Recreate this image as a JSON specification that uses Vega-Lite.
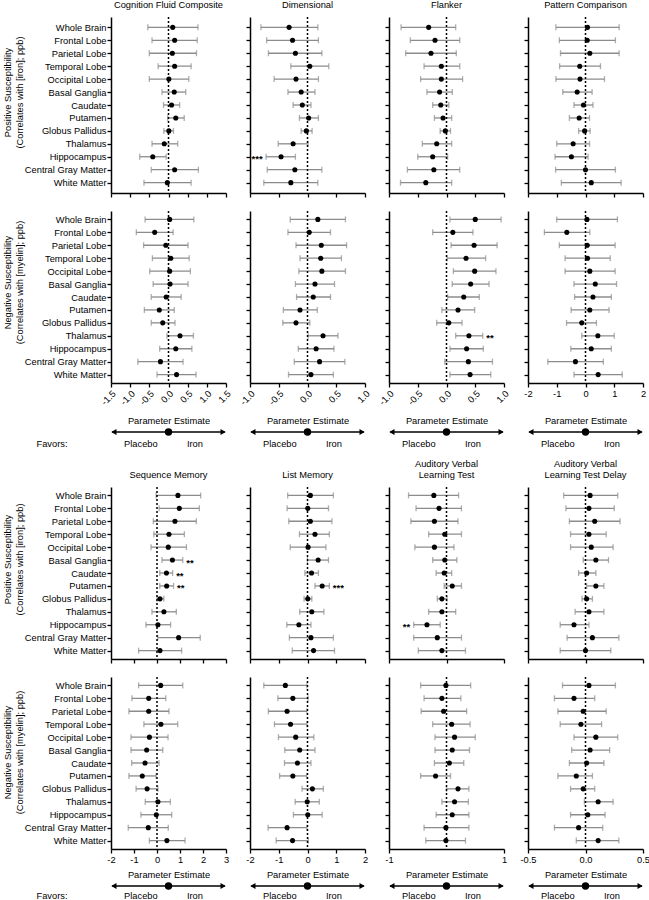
{
"$schema":"https://vega.github.io/schema/vega-lite/v6.json",
"padding":{"left":3,"top":0,"right":2,"bottom":0},
"bounds":"flush","spacing":{"row":18,"column":24},"columns":4,
"config":{"font":"Liberation Sans","view":{"stroke":null},
"title":{"font":"Liberation Sans","fontSize":9.3,"fontWeight":"normal","color":"black","offset":6,"lineHeight":10.5},
"axis":{"labelFont":"Liberation Sans","labelFontSize":9.3,"labelColor":"black","titleFont":"Liberation Sans","titleFontSize":9.3,"titleFontWeight":"normal","titleColor":"black","domainColor":"black","domainWidth":1.5,"tickColor":"black","tickWidth":1.3,"tickSize":4,"labelPadding":2,"titlePadding":4,"grid":false},
"axisX":{"tickCount":20,"labelOverlap":false,"labelFlush":false,"labelBound":false},
"text":{"font":"Liberation Sans"},
"locale":{"number":{"decimal":".","thousands":",","grouping":[3],"currency":["$",""],"minus":"-"}}},
"datasets":{
"arrow":[
{"k":"line","lane":"arrow","x":0.01,"x2":0.99},
{"k":"head","lane":"arrow","x":0.025,"shape":"triangle-left"},
{"k":"head","lane":"arrow","x":0.975,"shape":"triangle-right"},
{"k":"dot","lane":"arrow","x":0.5},
{"k":"label","lane":"arrow","x":0.26,"label":"Placebo"},
{"k":"label","lane":"arrow","x":0.73,"label":"Iron"},
{"k":"favors","lane":"arrow","x":-0.513,"label":"Favors:"}],
"est":[
{"t":"cog","s":"pos","r":"Whole Brain","e":0.11,"l":-0.54,"h":0.77},
{"t":"cog","s":"pos","r":"Frontal Lobe","e":0.16,"l":-0.43,"h":0.75},
{"t":"cog","s":"pos","r":"Parietal Lobe","e":0.10,"l":-0.50,"h":0.73},
{"t":"cog","s":"pos","r":"Temporal Lobe","e":0.16,"l":-0.27,"h":0.59},
{"t":"cog","s":"pos","r":"Occipital Lobe","e":0.01,"l":-0.50,"h":0.53},
{"t":"cog","s":"pos","r":"Basal Ganglia","e":0.15,"l":-0.17,"h":0.45},
{"t":"cog","s":"pos","r":"Caudate","e":0.08,"l":-0.13,"h":0.29},
{"t":"cog","s":"pos","r":"Putamen","e":0.19,"l":-0.02,"h":0.41},
{"t":"cog","s":"pos","r":"Globus Pallidus","e":0.01,"l":-0.12,"h":0.13},
{"t":"cog","s":"pos","r":"Thalamus","e":-0.11,"l":-0.43,"h":0.24},
{"t":"cog","s":"pos","r":"Hippocampus","e":-0.41,"l":-0.75,"h":-0.06},
{"t":"cog","s":"pos","r":"Central Gray Matter","e":0.16,"l":-0.45,"h":0.78},
{"t":"cog","s":"pos","r":"White Matter","e":-0.03,"l":-0.64,"h":0.59},
{"t":"cog","s":"neg","r":"Whole Brain","e":0.03,"l":-0.61,"h":0.66},
{"t":"cog","s":"neg","r":"Frontal Lobe","e":-0.36,"l":-0.84,"h":0.12},
{"t":"cog","s":"neg","r":"Parietal Lobe","e":-0.07,"l":-0.65,"h":0.51},
{"t":"cog","s":"neg","r":"Temporal Lobe","e":0.06,"l":-0.42,"h":0.54},
{"t":"cog","s":"neg","r":"Occipital Lobe","e":0.03,"l":-0.49,"h":0.57},
{"t":"cog","s":"neg","r":"Basal Ganglia","e":0.04,"l":-0.40,"h":0.51},
{"t":"cog","s":"neg","r":"Caudate","e":-0.06,"l":-0.45,"h":0.33},
{"t":"cog","s":"neg","r":"Putamen","e":-0.24,"l":-0.63,"h":0.15},
{"t":"cog","s":"neg","r":"Globus Pallidus","e":-0.15,"l":-0.45,"h":0.17},
{"t":"cog","s":"neg","r":"Thalamus","e":0.30,"l":-0.04,"h":0.65},
{"t":"cog","s":"neg","r":"Hippocampus","e":0.19,"l":-0.23,"h":0.61},
{"t":"cog","s":"neg","r":"Central Gray Matter","e":-0.21,"l":-0.80,"h":0.38},
{"t":"cog","s":"neg","r":"White Matter","e":0.21,"l":-0.30,"h":0.72},
{"t":"dim","s":"pos","r":"Whole Brain","e":-0.32,"l":-0.81,"h":0.18},
{"t":"dim","s":"pos","r":"Frontal Lobe","e":-0.26,"l":-0.71,"h":0.19},
{"t":"dim","s":"pos","r":"Parietal Lobe","e":-0.21,"l":-0.68,"h":0.25},
{"t":"dim","s":"pos","r":"Temporal Lobe","e":0.04,"l":-0.29,"h":0.37},
{"t":"dim","s":"pos","r":"Occipital Lobe","e":-0.20,"l":-0.58,"h":0.19},
{"t":"dim","s":"pos","r":"Basal Ganglia","e":-0.11,"l":-0.34,"h":0.13},
{"t":"dim","s":"pos","r":"Caudate","e":-0.09,"l":-0.25,"h":0.06},
{"t":"dim","s":"pos","r":"Putamen","e":0.02,"l":-0.14,"h":0.19},
{"t":"dim","s":"pos","r":"Globus Pallidus","e":-0.02,"l":-0.11,"h":0.08},
{"t":"dim","s":"pos","r":"Thalamus","e":-0.25,"l":-0.51,"h":0.01},
{"t":"dim","s":"pos","r":"Hippocampus","e":-0.46,"l":-0.72,"h":-0.21,"a":"***"},
{"t":"dim","s":"pos","r":"Central Gray Matter","e":-0.22,"l":-0.70,"h":0.25},
{"t":"dim","s":"pos","r":"White Matter","e":-0.29,"l":-0.76,"h":0.18},
{"t":"dim","s":"neg","r":"Whole Brain","e":0.18,"l":-0.30,"h":0.66},
{"t":"dim","s":"neg","r":"Frontal Lobe","e":0.03,"l":-0.34,"h":0.40},
{"t":"dim","s":"neg","r":"Parietal Lobe","e":0.24,"l":-0.20,"h":0.68},
{"t":"dim","s":"neg","r":"Temporal Lobe","e":0.23,"l":-0.13,"h":0.59},
{"t":"dim","s":"neg","r":"Occipital Lobe","e":0.25,"l":-0.15,"h":0.66},
{"t":"dim","s":"neg","r":"Basal Ganglia","e":0.13,"l":-0.21,"h":0.47},
{"t":"dim","s":"neg","r":"Caudate","e":0.10,"l":-0.19,"h":0.40},
{"t":"dim","s":"neg","r":"Putamen","e":-0.13,"l":-0.42,"h":0.17},
{"t":"dim","s":"neg","r":"Globus Pallidus","e":-0.20,"l":-0.43,"h":0.04},
{"t":"dim","s":"neg","r":"Thalamus","e":0.27,"l":0.01,"h":0.53},
{"t":"dim","s":"neg","r":"Hippocampus","e":0.15,"l":-0.16,"h":0.46},
{"t":"dim","s":"neg","r":"Central Gray Matter","e":0.21,"l":-0.23,"h":0.65},
{"t":"dim","s":"neg","r":"White Matter","e":0.06,"l":-0.33,"h":0.45},
{"t":"fla","s":"pos","r":"Whole Brain","e":-0.31,"l":-0.79,"h":0.16},
{"t":"fla","s":"pos","r":"Frontal Lobe","e":-0.20,"l":-0.63,"h":0.23},
{"t":"fla","s":"pos","r":"Parietal Lobe","e":-0.27,"l":-0.71,"h":0.17},
{"t":"fla","s":"pos","r":"Temporal Lobe","e":-0.09,"l":-0.39,"h":0.23},
{"t":"fla","s":"pos","r":"Occipital Lobe","e":-0.09,"l":-0.45,"h":0.28},
{"t":"fla","s":"pos","r":"Basal Ganglia","e":-0.12,"l":-0.34,"h":0.10},
{"t":"fla","s":"pos","r":"Caudate","e":-0.10,"l":-0.24,"h":0.04},
{"t":"fla","s":"pos","r":"Putamen","e":-0.06,"l":-0.21,"h":0.09},
{"t":"fla","s":"pos","r":"Globus Pallidus","e":-0.02,"l":-0.11,"h":0.07},
{"t":"fla","s":"pos","r":"Thalamus","e":-0.17,"l":-0.42,"h":0.09},
{"t":"fla","s":"pos","r":"Hippocampus","e":-0.24,"l":-0.50,"h":0.02},
{"t":"fla","s":"pos","r":"Central Gray Matter","e":-0.22,"l":-0.68,"h":0.23},
{"t":"fla","s":"pos","r":"White Matter","e":-0.36,"l":-0.80,"h":0.09},
{"t":"fla","s":"neg","r":"Whole Brain","e":0.50,"l":0.06,"h":0.95},
{"t":"fla","s":"neg","r":"Frontal Lobe","e":0.11,"l":-0.24,"h":0.46},
{"t":"fla","s":"neg","r":"Parietal Lobe","e":0.48,"l":0.08,"h":0.88},
{"t":"fla","s":"neg","r":"Temporal Lobe","e":0.34,"l":0.01,"h":0.68},
{"t":"fla","s":"neg","r":"Occipital Lobe","e":0.49,"l":0.12,"h":0.86},
{"t":"fla","s":"neg","r":"Basal Ganglia","e":0.42,"l":0.10,"h":0.74},
{"t":"fla","s":"neg","r":"Caudate","e":0.30,"l":0.02,"h":0.57},
{"t":"fla","s":"neg","r":"Putamen","e":0.20,"l":-0.08,"h":0.49},
{"t":"fla","s":"neg","r":"Globus Pallidus","e":0.04,"l":-0.17,"h":0.27},
{"t":"fla","s":"neg","r":"Thalamus","e":0.39,"l":0.16,"h":0.63,"a":"**"},
{"t":"fla","s":"neg","r":"Hippocampus","e":0.35,"l":0.06,"h":0.64},
{"t":"fla","s":"neg","r":"Central Gray Matter","e":0.38,"l":-0.03,"h":0.80},
{"t":"fla","s":"neg","r":"White Matter","e":0.41,"l":0.06,"h":0.77},
{"t":"pat","s":"pos","r":"Whole Brain","e":0.07,"l":-1.03,"h":1.17},
{"t":"pat","s":"pos","r":"Frontal Lobe","e":0.06,"l":-0.91,"h":1.04},
{"t":"pat","s":"pos","r":"Parietal Lobe","e":0.15,"l":-0.87,"h":1.17},
{"t":"pat","s":"pos","r":"Temporal Lobe","e":-0.20,"l":-0.90,"h":0.52},
{"t":"pat","s":"pos","r":"Occipital Lobe","e":-0.19,"l":-1.03,"h":0.66},
{"t":"pat","s":"pos","r":"Basal Ganglia","e":-0.29,"l":-0.79,"h":0.23},
{"t":"pat","s":"pos","r":"Caudate","e":-0.07,"l":-0.40,"h":0.26},
{"t":"pat","s":"pos","r":"Putamen","e":-0.22,"l":-0.56,"h":0.14},
{"t":"pat","s":"pos","r":"Globus Pallidus","e":-0.03,"l":-0.24,"h":0.16},
{"t":"pat","s":"pos","r":"Thalamus","e":-0.43,"l":-1.00,"h":0.14},
{"t":"pat","s":"pos","r":"Hippocampus","e":-0.49,"l":-1.06,"h":0.09},
{"t":"pat","s":"pos","r":"Central Gray Matter","e":0.00,"l":-1.04,"h":1.04},
{"t":"pat","s":"pos","r":"White Matter","e":0.20,"l":-0.84,"h":1.24},
{"t":"pat","s":"neg","r":"Whole Brain","e":0.05,"l":-1.00,"h":1.11},
{"t":"pat","s":"neg","r":"Frontal Lobe","e":-0.65,"l":-1.43,"h":0.15},
{"t":"pat","s":"neg","r":"Parietal Lobe","e":0.06,"l":-0.91,"h":1.03},
{"t":"pat","s":"neg","r":"Temporal Lobe","e":0.07,"l":-0.71,"h":0.86},
{"t":"pat","s":"neg","r":"Occipital Lobe","e":0.15,"l":-0.71,"h":1.03},
{"t":"pat","s":"neg","r":"Basal Ganglia","e":0.34,"l":-0.40,"h":1.08},
{"t":"pat","s":"neg","r":"Caudate","e":0.26,"l":-0.38,"h":0.90},
{"t":"pat","s":"neg","r":"Putamen","e":0.15,"l":-0.50,"h":0.82},
{"t":"pat","s":"neg","r":"Globus Pallidus","e":-0.13,"l":-0.66,"h":0.38},
{"t":"pat","s":"neg","r":"Thalamus","e":0.43,"l":-0.13,"h":1.00},
{"t":"pat","s":"neg","r":"Hippocampus","e":0.20,"l":-0.51,"h":0.90},
{"t":"pat","s":"neg","r":"Central Gray Matter","e":-0.35,"l":-1.31,"h":0.62},
{"t":"pat","s":"neg","r":"White Matter","e":0.44,"l":-0.40,"h":1.28},
{"t":"seq","s":"pos","r":"Whole Brain","e":0.91,"l":-0.04,"h":1.90},
{"t":"seq","s":"pos","r":"Frontal Lobe","e":0.97,"l":0.09,"h":1.84},
{"t":"seq","s":"pos","r":"Parietal Lobe","e":0.78,"l":-0.16,"h":1.71},
{"t":"seq","s":"pos","r":"Temporal Lobe","e":0.52,"l":-0.14,"h":1.19},
{"t":"seq","s":"pos","r":"Occipital Lobe","e":0.49,"l":-0.26,"h":1.28},
{"t":"seq","s":"pos","r":"Basal Ganglia","e":0.67,"l":0.22,"h":1.12,"a":"**"},
{"t":"seq","s":"pos","r":"Caudate","e":0.41,"l":0.12,"h":0.68,"a":"**"},
{"t":"seq","s":"pos","r":"Putamen","e":0.42,"l":0.12,"h":0.72,"a":"**"},
{"t":"seq","s":"pos","r":"Globus Pallidus","e":0.13,"l":0.00,"h":0.30},
{"t":"seq","s":"pos","r":"Thalamus","e":0.30,"l":-0.22,"h":0.84},
{"t":"seq","s":"pos","r":"Hippocampus","e":0.04,"l":-0.48,"h":0.59},
{"t":"seq","s":"pos","r":"Central Gray Matter","e":0.94,"l":0.03,"h":1.88},
{"t":"seq","s":"pos","r":"White Matter","e":0.13,"l":-0.80,"h":1.07},
{"t":"seq","s":"neg","r":"Whole Brain","e":0.16,"l":-0.80,"h":1.12},
{"t":"seq","s":"neg","r":"Frontal Lobe","e":-0.36,"l":-1.09,"h":0.38},
{"t":"seq","s":"neg","r":"Parietal Lobe","e":-0.36,"l":-1.22,"h":0.52},
{"t":"seq","s":"neg","r":"Temporal Lobe","e":0.17,"l":-0.57,"h":0.90},
{"t":"seq","s":"neg","r":"Occipital Lobe","e":-0.33,"l":-1.13,"h":0.48},
{"t":"seq","s":"neg","r":"Basal Ganglia","e":-0.45,"l":-1.13,"h":0.25},
{"t":"seq","s":"neg","r":"Caudate","e":-0.52,"l":-1.10,"h":0.09},
{"t":"seq","s":"neg","r":"Putamen","e":-0.64,"l":-1.22,"h":-0.04},
{"t":"seq","s":"neg","r":"Globus Pallidus","e":-0.43,"l":-0.91,"h":0.04},
{"t":"seq","s":"neg","r":"Thalamus","e":0.04,"l":-0.51,"h":0.58},
{"t":"seq","s":"neg","r":"Hippocampus","e":-0.03,"l":-0.70,"h":0.64},
{"t":"seq","s":"neg","r":"Central Gray Matter","e":-0.38,"l":-1.25,"h":0.49},
{"t":"seq","s":"neg","r":"White Matter","e":0.43,"l":-0.33,"h":1.22},
{"t":"lis","s":"pos","r":"Whole Brain","e":0.10,"l":-0.69,"h":0.90},
{"t":"lis","s":"pos","r":"Frontal Lobe","e":0.01,"l":-0.71,"h":0.73},
{"t":"lis","s":"pos","r":"Parietal Lobe","e":0.10,"l":-0.65,"h":0.85},
{"t":"lis","s":"pos","r":"Temporal Lobe","e":0.26,"l":-0.28,"h":0.76},
{"t":"lis","s":"pos","r":"Occipital Lobe","e":0.02,"l":-0.60,"h":0.64},
{"t":"lis","s":"pos","r":"Basal Ganglia","e":0.37,"l":0.00,"h":0.73},
{"t":"lis","s":"pos","r":"Caudate","e":0.14,"l":-0.09,"h":0.38},
{"t":"lis","s":"pos","r":"Putamen","e":0.51,"l":0.26,"h":0.76,"a":"***"},
{"t":"lis","s":"pos","r":"Globus Pallidus","e":0.01,"l":-0.12,"h":0.15},
{"t":"lis","s":"pos","r":"Thalamus","e":0.15,"l":-0.27,"h":0.57},
{"t":"lis","s":"pos","r":"Hippocampus","e":-0.30,"l":-0.72,"h":0.12},
{"t":"lis","s":"pos","r":"Central Gray Matter","e":0.12,"l":-0.63,"h":0.90},
{"t":"lis","s":"pos","r":"White Matter","e":0.21,"l":-0.53,"h":0.94},
{"t":"lis","s":"neg","r":"Whole Brain","e":-0.77,"l":-1.52,"h":-0.02},
{"t":"lis","s":"neg","r":"Frontal Lobe","e":-0.51,"l":-1.03,"h":0.02},
{"t":"lis","s":"neg","r":"Parietal Lobe","e":-0.71,"l":-1.36,"h":-0.02},
{"t":"lis","s":"neg","r":"Temporal Lobe","e":-0.59,"l":-1.15,"h":-0.02},
{"t":"lis","s":"neg","r":"Occipital Lobe","e":-0.41,"l":-1.01,"h":0.22},
{"t":"lis","s":"neg","r":"Basal Ganglia","e":-0.27,"l":-0.79,"h":0.26},
{"t":"lis","s":"neg","r":"Caudate","e":-0.35,"l":-0.80,"h":0.12},
{"t":"lis","s":"neg","r":"Putamen","e":-0.51,"l":-0.97,"h":-0.03},
{"t":"lis","s":"neg","r":"Globus Pallidus","e":0.17,"l":-0.19,"h":0.55},
{"t":"lis","s":"neg","r":"Thalamus","e":-0.01,"l":-0.43,"h":0.41},
{"t":"lis","s":"neg","r":"Hippocampus","e":0.01,"l":-0.49,"h":0.51},
{"t":"lis","s":"neg","r":"Central Gray Matter","e":-0.71,"l":-1.37,"h":-0.02},
{"t":"lis","s":"neg","r":"White Matter","e":-0.52,"l":-1.09,"h":0.03},
{"t":"avl","s":"pos","r":"Whole Brain","e":-0.22,"l":-0.66,"h":0.21},
{"t":"avl","s":"pos","r":"Frontal Lobe","e":-0.13,"l":-0.53,"h":0.26},
{"t":"avl","s":"pos","r":"Parietal Lobe","e":-0.21,"l":-0.62,"h":0.20},
{"t":"avl","s":"pos","r":"Temporal Lobe","e":-0.03,"l":-0.31,"h":0.26},
{"t":"avl","s":"pos","r":"Occipital Lobe","e":-0.21,"l":-0.55,"h":0.13},
{"t":"avl","s":"pos","r":"Basal Ganglia","e":-0.03,"l":-0.24,"h":0.18},
{"t":"avl","s":"pos","r":"Caudate","e":-0.04,"l":-0.18,"h":0.09},
{"t":"avl","s":"pos","r":"Putamen","e":0.10,"l":-0.04,"h":0.26},
{"t":"avl","s":"pos","r":"Globus Pallidus","e":-0.08,"l":-0.16,"h":0.01},
{"t":"avl","s":"pos","r":"Thalamus","e":-0.08,"l":-0.31,"h":0.16},
{"t":"avl","s":"pos","r":"Hippocampus","e":-0.34,"l":-0.57,"h":-0.11,"a":"**"},
{"t":"avl","s":"pos","r":"Central Gray Matter","e":-0.16,"l":-0.57,"h":0.26},
{"t":"avl","s":"pos","r":"White Matter","e":-0.08,"l":-0.49,"h":0.33},
{"t":"avl","s":"neg","r":"Whole Brain","e":-0.01,"l":-0.45,"h":0.42},
{"t":"avl","s":"neg","r":"Frontal Lobe","e":-0.08,"l":-0.39,"h":0.25},
{"t":"avl","s":"neg","r":"Parietal Lobe","e":-0.05,"l":-0.44,"h":0.35},
{"t":"avl","s":"neg","r":"Temporal Lobe","e":0.09,"l":-0.24,"h":0.41},
{"t":"avl","s":"neg","r":"Occipital Lobe","e":0.14,"l":-0.20,"h":0.50},
{"t":"avl","s":"neg","r":"Basal Ganglia","e":0.10,"l":-0.20,"h":0.40},
{"t":"avl","s":"neg","r":"Caudate","e":0.05,"l":-0.21,"h":0.30},
{"t":"avl","s":"neg","r":"Putamen","e":-0.19,"l":-0.45,"h":0.07},
{"t":"avl","s":"neg","r":"Globus Pallidus","e":0.20,"l":0.00,"h":0.39},
{"t":"avl","s":"neg","r":"Thalamus","e":0.14,"l":-0.08,"h":0.38},
{"t":"avl","s":"neg","r":"Hippocampus","e":0.10,"l":-0.18,"h":0.39},
{"t":"avl","s":"neg","r":"Central Gray Matter","e":-0.01,"l":-0.39,"h":0.39},
{"t":"avl","s":"neg","r":"White Matter","e":-0.01,"l":-0.36,"h":0.33},
{"t":"del","s":"pos","r":"Whole Brain","e":0.04,"l":-0.19,"h":0.28},
{"t":"del","s":"pos","r":"Frontal Lobe","e":0.03,"l":-0.17,"h":0.25},
{"t":"del","s":"pos","r":"Parietal Lobe","e":0.08,"l":-0.14,"h":0.30},
{"t":"del","s":"pos","r":"Temporal Lobe","e":0.03,"l":-0.13,"h":0.18},
{"t":"del","s":"pos","r":"Occipital Lobe","e":0.05,"l":-0.13,"h":0.24},
{"t":"del","s":"pos","r":"Basal Ganglia","e":0.09,"l":-0.02,"h":0.20},
{"t":"del","s":"pos","r":"Caudate","e":0.01,"l":-0.06,"h":0.09},
{"t":"del","s":"pos","r":"Putamen","e":0.09,"l":0.01,"h":0.16},
{"t":"del","s":"pos","r":"Globus Pallidus","e":0.01,"l":-0.03,"h":0.06},
{"t":"del","s":"pos","r":"Thalamus","e":0.03,"l":-0.09,"h":0.16},
{"t":"del","s":"pos","r":"Hippocampus","e":-0.10,"l":-0.22,"h":0.03},
{"t":"del","s":"pos","r":"Central Gray Matter","e":0.06,"l":-0.16,"h":0.29},
{"t":"del","s":"pos","r":"White Matter","e":0.00,"l":-0.22,"h":0.22},
{"t":"del","s":"neg","r":"Whole Brain","e":0.03,"l":-0.20,"h":0.26},
{"t":"del","s":"neg","r":"Frontal Lobe","e":-0.10,"l":-0.27,"h":0.08},
{"t":"del","s":"neg","r":"Parietal Lobe","e":-0.02,"l":-0.24,"h":0.18},
{"t":"del","s":"neg","r":"Temporal Lobe","e":-0.04,"l":-0.22,"h":0.14},
{"t":"del","s":"neg","r":"Occipital Lobe","e":0.09,"l":-0.10,"h":0.28},
{"t":"del","s":"neg","r":"Basal Ganglia","e":0.04,"l":-0.12,"h":0.21},
{"t":"del","s":"neg","r":"Caudate","e":0.01,"l":-0.14,"h":0.16},
{"t":"del","s":"neg","r":"Putamen","e":-0.08,"l":-0.24,"h":0.06},
{"t":"del","s":"neg","r":"Globus Pallidus","e":-0.02,"l":-0.13,"h":0.08},
{"t":"del","s":"neg","r":"Thalamus","e":0.11,"l":-0.01,"h":0.24},
{"t":"del","s":"neg","r":"Hippocampus","e":0.02,"l":-0.13,"h":0.17},
{"t":"del","s":"neg","r":"Central Gray Matter","e":-0.06,"l":-0.27,"h":0.15},
{"t":"del","s":"neg","r":"White Matter","e":0.11,"l":-0.08,"h":0.29}
]},
"concat":[
{"width":115,"height":176,"title":"Cognition Fluid Composite","data":{"name":"est"},"transform":[{"filter":"datum.t==='cog'&&datum.s==='pos'"}],"layer":[
 {"mark":{"type":"rule","color":"#8c8c8c","strokeWidth":1.3},"encoding":{"x":{"field":"l","type":"quantitative","scale":{"domain":[-1.5,1.5],"nice":false,"zero":false},"axis":{"values":[-1.5,-1,-0.5,0,0.5,1,1.5],"tickCount":20,"labels":false,"title":null}},"x2":{"field":"h"},"y":{"field":"r","type":"nominal","scale":{"type":"point","domain":["Whole Brain","Frontal Lobe","Parietal Lobe","Temporal Lobe","Occipital Lobe","Basal Ganglia","Caudate","Putamen","Globus Pallidus","Thalamus","Hippocampus","Central Gray Matter","White Matter"],"padding":0.8},"axis":{"title":["Positive Susceptibility","(Correlates with [iron]; ppb)"],"labelPadding":1,"titlePadding":0,"titleY":75,"titleLineHeight":12}}}},
 {"mark":{"type":"tick","color":"#8c8c8c","thickness":1.3,"size":6},"encoding":{"x":{"field":"l","type":"quantitative"},"y":{"field":"r","type":"nominal"}}},
 {"mark":{"type":"tick","color":"#8c8c8c","thickness":1.3,"size":6},"encoding":{"x":{"field":"h","type":"quantitative"},"y":{"field":"r","type":"nominal"}}},
 {"transform":[{"aggregate":[{"op":"count","as":"n"}]}],"mark":{"type":"rule","color":"black","strokeDash":[2,2],"strokeWidth":1.5},"encoding":{"x":{"datum":0,"type":"quantitative"}}},
 {"mark":{"type":"circle","color":"black","size":26,"opacity":1},"encoding":{"x":{"field":"e","type":"quantitative"},"y":{"field":"r","type":"nominal"}}}]},
{"width":115,"height":176,"title":"Dimensional","data":{"name":"est"},"transform":[{"filter":"datum.t==='dim'&&datum.s==='pos'"}],"layer":[
 {"mark":{"type":"rule","color":"#8c8c8c","strokeWidth":1.3},"encoding":{"x":{"field":"l","type":"quantitative","scale":{"domain":[-1,1],"nice":false,"zero":false},"axis":{"values":[-1,-0.5,0,0.5,1],"tickCount":20,"labels":false,"title":null}},"x2":{"field":"h"},"y":{"field":"r","type":"nominal","scale":{"type":"point","domain":["Whole Brain","Frontal Lobe","Parietal Lobe","Temporal Lobe","Occipital Lobe","Basal Ganglia","Caudate","Putamen","Globus Pallidus","Thalamus","Hippocampus","Central Gray Matter","White Matter"],"padding":0.8},"axis":{"labels":false,"title":null}}}},
 {"mark":{"type":"tick","color":"#8c8c8c","thickness":1.3,"size":6},"encoding":{"x":{"field":"l","type":"quantitative"},"y":{"field":"r","type":"nominal"}}},
 {"mark":{"type":"tick","color":"#8c8c8c","thickness":1.3,"size":6},"encoding":{"x":{"field":"h","type":"quantitative"},"y":{"field":"r","type":"nominal"}}},
 {"transform":[{"aggregate":[{"op":"count","as":"n"}]}],"mark":{"type":"rule","color":"black","strokeDash":[2,2],"strokeWidth":1.5},"encoding":{"x":{"datum":0,"type":"quantitative"}}},
 {"mark":{"type":"circle","color":"black","size":26,"opacity":1},"encoding":{"x":{"field":"e","type":"quantitative"},"y":{"field":"r","type":"nominal"}}},
 {"transform":[{"filter":"datum.a"}],"mark":{"type":"text","align":"right","dx":-3.5,"dy":2.5,"fontSize":9.5,"fontWeight":"bold","color":"black"},"encoding":{"x":{"field":"l","type":"quantitative"},"y":{"field":"r","type":"nominal"},"text":{"field":"a"}}}]},
{"width":115,"height":176,"title":"Flanker","data":{"name":"est"},"transform":[{"filter":"datum.t==='fla'&&datum.s==='pos'"}],"layer":[
 {"mark":{"type":"rule","color":"#8c8c8c","strokeWidth":1.3},"encoding":{"x":{"field":"l","type":"quantitative","scale":{"domain":[-1,1],"nice":false,"zero":false},"axis":{"values":[-1,-0.5,0,0.5,1],"tickCount":20,"labels":false,"title":null}},"x2":{"field":"h"},"y":{"field":"r","type":"nominal","scale":{"type":"point","domain":["Whole Brain","Frontal Lobe","Parietal Lobe","Temporal Lobe","Occipital Lobe","Basal Ganglia","Caudate","Putamen","Globus Pallidus","Thalamus","Hippocampus","Central Gray Matter","White Matter"],"padding":0.8},"axis":{"labels":false,"title":null}}}},
 {"mark":{"type":"tick","color":"#8c8c8c","thickness":1.3,"size":6},"encoding":{"x":{"field":"l","type":"quantitative"},"y":{"field":"r","type":"nominal"}}},
 {"mark":{"type":"tick","color":"#8c8c8c","thickness":1.3,"size":6},"encoding":{"x":{"field":"h","type":"quantitative"},"y":{"field":"r","type":"nominal"}}},
 {"transform":[{"aggregate":[{"op":"count","as":"n"}]}],"mark":{"type":"rule","color":"black","strokeDash":[2,2],"strokeWidth":1.5},"encoding":{"x":{"datum":0,"type":"quantitative"}}},
 {"mark":{"type":"circle","color":"black","size":26,"opacity":1},"encoding":{"x":{"field":"e","type":"quantitative"},"y":{"field":"r","type":"nominal"}}}]},
{"width":115,"height":176,"title":"Pattern Comparison","data":{"name":"est"},"transform":[{"filter":"datum.t==='pat'&&datum.s==='pos'"}],"layer":[
 {"mark":{"type":"rule","color":"#8c8c8c","strokeWidth":1.3},"encoding":{"x":{"field":"l","type":"quantitative","scale":{"domain":[-2,2],"nice":false,"zero":false},"axis":{"values":[-2,-1,0,1,2],"tickCount":20,"labels":false,"title":null}},"x2":{"field":"h"},"y":{"field":"r","type":"nominal","scale":{"type":"point","domain":["Whole Brain","Frontal Lobe","Parietal Lobe","Temporal Lobe","Occipital Lobe","Basal Ganglia","Caudate","Putamen","Globus Pallidus","Thalamus","Hippocampus","Central Gray Matter","White Matter"],"padding":0.8},"axis":{"labels":false,"title":null}}}},
 {"mark":{"type":"tick","color":"#8c8c8c","thickness":1.3,"size":6},"encoding":{"x":{"field":"l","type":"quantitative"},"y":{"field":"r","type":"nominal"}}},
 {"mark":{"type":"tick","color":"#8c8c8c","thickness":1.3,"size":6},"encoding":{"x":{"field":"h","type":"quantitative"},"y":{"field":"r","type":"nominal"}}},
 {"transform":[{"aggregate":[{"op":"count","as":"n"}]}],"mark":{"type":"rule","color":"black","strokeDash":[2,2],"strokeWidth":1.5},"encoding":{"x":{"datum":0,"type":"quantitative"}}},
 {"mark":{"type":"circle","color":"black","size":26,"opacity":1},"encoding":{"x":{"field":"e","type":"quantitative"},"y":{"field":"r","type":"nominal"}}}]},
{"width":115,"height":172,"data":{"name":"est"},"transform":[{"filter":"datum.t==='cog'&&datum.s==='neg'"}],"layer":[
 {"mark":{"type":"rule","color":"#8c8c8c","strokeWidth":1.3},"encoding":{"x":{"field":"l","type":"quantitative","scale":{"domain":[-1.5,1.5],"nice":false,"zero":false},"axis":{"values":[-1.5,-1,-0.5,0,0.5,1,1.5],"tickCount":20,"format":".1f","labelAngle":-45,"labelOverlap":false,"labelFlush":false,"title":"Parameter Estimate","titlePadding":10}},"x2":{"field":"h"},"y":{"field":"r","type":"nominal","scale":{"type":"point","domain":["Whole Brain","Frontal Lobe","Parietal Lobe","Temporal Lobe","Occipital Lobe","Basal Ganglia","Caudate","Putamen","Globus Pallidus","Thalamus","Hippocampus","Central Gray Matter","White Matter"],"padding":0.65},"axis":{"title":["Negative Susceptibility","(Correlates with [myelin]; ppb)"],"labelPadding":1,"titlePadding":0,"titleY":71,"titleLineHeight":12}}}},
 {"mark":{"type":"tick","color":"#8c8c8c","thickness":1.3,"size":6},"encoding":{"x":{"field":"l","type":"quantitative"},"y":{"field":"r","type":"nominal"}}},
 {"mark":{"type":"tick","color":"#8c8c8c","thickness":1.3,"size":6},"encoding":{"x":{"field":"h","type":"quantitative"},"y":{"field":"r","type":"nominal"}}},
 {"transform":[{"aggregate":[{"op":"count","as":"n"}]}],"mark":{"type":"rule","color":"black","strokeDash":[2,2],"strokeWidth":1.5},"encoding":{"x":{"datum":0,"type":"quantitative"}}},
 {"mark":{"type":"circle","color":"black","size":26,"opacity":1},"encoding":{"x":{"field":"e","type":"quantitative"},"y":{"field":"r","type":"nominal"}}}]},
{"width":115,"height":172,"data":{"name":"est"},"transform":[{"filter":"datum.t==='dim'&&datum.s==='neg'"}],"layer":[
 {"mark":{"type":"rule","color":"#8c8c8c","strokeWidth":1.3},"encoding":{"x":{"field":"l","type":"quantitative","scale":{"domain":[-1,1],"nice":false,"zero":false},"axis":{"values":[-1,-0.5,0,0.5,1],"tickCount":20,"format":".1f","labelAngle":-45,"labelOverlap":false,"labelFlush":false,"title":"Parameter Estimate","titlePadding":10}},"x2":{"field":"h"},"y":{"field":"r","type":"nominal","scale":{"type":"point","domain":["Whole Brain","Frontal Lobe","Parietal Lobe","Temporal Lobe","Occipital Lobe","Basal Ganglia","Caudate","Putamen","Globus Pallidus","Thalamus","Hippocampus","Central Gray Matter","White Matter"],"padding":0.65},"axis":{"labels":false,"title":null}}}},
 {"mark":{"type":"tick","color":"#8c8c8c","thickness":1.3,"size":6},"encoding":{"x":{"field":"l","type":"quantitative"},"y":{"field":"r","type":"nominal"}}},
 {"mark":{"type":"tick","color":"#8c8c8c","thickness":1.3,"size":6},"encoding":{"x":{"field":"h","type":"quantitative"},"y":{"field":"r","type":"nominal"}}},
 {"transform":[{"aggregate":[{"op":"count","as":"n"}]}],"mark":{"type":"rule","color":"black","strokeDash":[2,2],"strokeWidth":1.5},"encoding":{"x":{"datum":0,"type":"quantitative"}}},
 {"mark":{"type":"circle","color":"black","size":26,"opacity":1},"encoding":{"x":{"field":"e","type":"quantitative"},"y":{"field":"r","type":"nominal"}}}]},
{"width":115,"height":172,"data":{"name":"est"},"transform":[{"filter":"datum.t==='fla'&&datum.s==='neg'"}],"layer":[
 {"mark":{"type":"rule","color":"#8c8c8c","strokeWidth":1.3},"encoding":{"x":{"field":"l","type":"quantitative","scale":{"domain":[-1,1],"nice":false,"zero":false},"axis":{"values":[-1,-0.5,0,0.5,1],"tickCount":20,"format":".1f","labelAngle":-45,"labelOverlap":false,"labelFlush":false,"title":"Parameter Estimate","titlePadding":10}},"x2":{"field":"h"},"y":{"field":"r","type":"nominal","scale":{"type":"point","domain":["Whole Brain","Frontal Lobe","Parietal Lobe","Temporal Lobe","Occipital Lobe","Basal Ganglia","Caudate","Putamen","Globus Pallidus","Thalamus","Hippocampus","Central Gray Matter","White Matter"],"padding":0.65},"axis":{"labels":false,"title":null}}}},
 {"mark":{"type":"tick","color":"#8c8c8c","thickness":1.3,"size":6},"encoding":{"x":{"field":"l","type":"quantitative"},"y":{"field":"r","type":"nominal"}}},
 {"mark":{"type":"tick","color":"#8c8c8c","thickness":1.3,"size":6},"encoding":{"x":{"field":"h","type":"quantitative"},"y":{"field":"r","type":"nominal"}}},
 {"transform":[{"aggregate":[{"op":"count","as":"n"}]}],"mark":{"type":"rule","color":"black","strokeDash":[2,2],"strokeWidth":1.5},"encoding":{"x":{"datum":0,"type":"quantitative"}}},
 {"mark":{"type":"circle","color":"black","size":26,"opacity":1},"encoding":{"x":{"field":"e","type":"quantitative"},"y":{"field":"r","type":"nominal"}}},
 {"transform":[{"filter":"datum.a"}],"mark":{"type":"text","align":"left","dx":3.5,"dy":2.5,"fontSize":9.5,"fontWeight":"bold","color":"black"},"encoding":{"x":{"field":"h","type":"quantitative"},"y":{"field":"r","type":"nominal"},"text":{"field":"a"}}}]},
{"width":115,"height":172,"data":{"name":"est"},"transform":[{"filter":"datum.t==='pat'&&datum.s==='neg'"}],"layer":[
 {"mark":{"type":"rule","color":"#8c8c8c","strokeWidth":1.3},"encoding":{"x":{"field":"l","type":"quantitative","scale":{"domain":[-2,2],"nice":false,"zero":false},"axis":{"values":[-2,-1,0,1,2],"tickCount":20,"format":"d","labelAngle":0,"labelOverlap":false,"labelFlush":false,"title":"Parameter Estimate","titlePadding":18}},"x2":{"field":"h"},"y":{"field":"r","type":"nominal","scale":{"type":"point","domain":["Whole Brain","Frontal Lobe","Parietal Lobe","Temporal Lobe","Occipital Lobe","Basal Ganglia","Caudate","Putamen","Globus Pallidus","Thalamus","Hippocampus","Central Gray Matter","White Matter"],"padding":0.65},"axis":{"labels":false,"title":null}}}},
 {"mark":{"type":"tick","color":"#8c8c8c","thickness":1.3,"size":6},"encoding":{"x":{"field":"l","type":"quantitative"},"y":{"field":"r","type":"nominal"}}},
 {"mark":{"type":"tick","color":"#8c8c8c","thickness":1.3,"size":6},"encoding":{"x":{"field":"h","type":"quantitative"},"y":{"field":"r","type":"nominal"}}},
 {"transform":[{"aggregate":[{"op":"count","as":"n"}]}],"mark":{"type":"rule","color":"black","strokeDash":[2,2],"strokeWidth":1.5},"encoding":{"x":{"datum":0,"type":"quantitative"}}},
 {"mark":{"type":"circle","color":"black","size":26,"opacity":1},"encoding":{"x":{"field":"e","type":"quantitative"},"y":{"field":"r","type":"nominal"}}}]},
{"width":115,"height":68,"data":{"name":"arrow"},"encoding":{"y":{"field":"lane","type":"nominal","scale":{"type":"point","domain":["arrow"],"align":0.456},"axis":null}},"layer":[
 {"transform":[{"filter":"datum.k==='line'"}],"mark":{"type":"rule","color":"black","strokeWidth":1.5},"encoding":{"x":{"field":"x","type":"quantitative","scale":{"domain":[0,1],"nice":false,"zero":false},"axis":null},"x2":{"field":"x2"}}},
 {"transform":[{"filter":"datum.k==='head'"}],"mark":{"type":"point","filled":true,"color":"black","size":36,"opacity":1},"encoding":{"x":{"field":"x","type":"quantitative"},"shape":{"field":"shape","type":"nominal","scale":null}}},
 {"transform":[{"filter":"datum.k==='dot'"}],"mark":{"type":"circle","color":"black","size":55,"opacity":1},"encoding":{"x":{"field":"x","type":"quantitative"}}},
 {"transform":[{"filter":"datum.k==='label'||datum.k==='favors'"}],"mark":{"type":"text","fontSize":9.3,"color":"black","dy":12},"encoding":{"x":{"field":"x","type":"quantitative"},"text":{"field":"label"}}}]},
{"width":115,"height":68,"data":{"name":"arrow"},"encoding":{"y":{"field":"lane","type":"nominal","scale":{"type":"point","domain":["arrow"],"align":0.456},"axis":null}},"layer":[
 {"transform":[{"filter":"datum.k==='line'"}],"mark":{"type":"rule","color":"black","strokeWidth":1.5},"encoding":{"x":{"field":"x","type":"quantitative","scale":{"domain":[0,1],"nice":false,"zero":false},"axis":null},"x2":{"field":"x2"}}},
 {"transform":[{"filter":"datum.k==='head'"}],"mark":{"type":"point","filled":true,"color":"black","size":36,"opacity":1},"encoding":{"x":{"field":"x","type":"quantitative"},"shape":{"field":"shape","type":"nominal","scale":null}}},
 {"transform":[{"filter":"datum.k==='dot'"}],"mark":{"type":"circle","color":"black","size":55,"opacity":1},"encoding":{"x":{"field":"x","type":"quantitative"}}},
 {"transform":[{"filter":"datum.k==='label'"}],"mark":{"type":"text","fontSize":9.3,"color":"black","dy":12},"encoding":{"x":{"field":"x","type":"quantitative"},"text":{"field":"label"}}}]},
{"width":115,"height":68,"data":{"name":"arrow"},"encoding":{"y":{"field":"lane","type":"nominal","scale":{"type":"point","domain":["arrow"],"align":0.456},"axis":null}},"layer":[
 {"transform":[{"filter":"datum.k==='line'"}],"mark":{"type":"rule","color":"black","strokeWidth":1.5},"encoding":{"x":{"field":"x","type":"quantitative","scale":{"domain":[0,1],"nice":false,"zero":false},"axis":null},"x2":{"field":"x2"}}},
 {"transform":[{"filter":"datum.k==='head'"}],"mark":{"type":"point","filled":true,"color":"black","size":36,"opacity":1},"encoding":{"x":{"field":"x","type":"quantitative"},"shape":{"field":"shape","type":"nominal","scale":null}}},
 {"transform":[{"filter":"datum.k==='dot'"}],"mark":{"type":"circle","color":"black","size":55,"opacity":1},"encoding":{"x":{"field":"x","type":"quantitative"}}},
 {"transform":[{"filter":"datum.k==='label'"}],"mark":{"type":"text","fontSize":9.3,"color":"black","dy":12},"encoding":{"x":{"field":"x","type":"quantitative"},"text":{"field":"label"}}}]},
{"width":115,"height":68,"data":{"name":"arrow"},"encoding":{"y":{"field":"lane","type":"nominal","scale":{"type":"point","domain":["arrow"],"align":0.456},"axis":null}},"layer":[
 {"transform":[{"filter":"datum.k==='line'"}],"mark":{"type":"rule","color":"black","strokeWidth":1.5},"encoding":{"x":{"field":"x","type":"quantitative","scale":{"domain":[0,1],"nice":false,"zero":false},"axis":null},"x2":{"field":"x2"}}},
 {"transform":[{"filter":"datum.k==='head'"}],"mark":{"type":"point","filled":true,"color":"black","size":36,"opacity":1},"encoding":{"x":{"field":"x","type":"quantitative"},"shape":{"field":"shape","type":"nominal","scale":null}}},
 {"transform":[{"filter":"datum.k==='dot'"}],"mark":{"type":"circle","color":"black","size":55,"opacity":1},"encoding":{"x":{"field":"x","type":"quantitative"}}},
 {"transform":[{"filter":"datum.k==='label'"}],"mark":{"type":"text","fontSize":9.3,"color":"black","dy":12},"encoding":{"x":{"field":"x","type":"quantitative"},"text":{"field":"label"}}}]},
{"width":115,"height":172,"title":"Sequence Memory","data":{"name":"est"},"transform":[{"filter":"datum.t==='seq'&&datum.s==='pos'"}],"layer":[
 {"mark":{"type":"rule","color":"#8c8c8c","strokeWidth":1.3},"encoding":{"x":{"field":"l","type":"quantitative","scale":{"domain":[-2,3],"nice":false,"zero":false},"axis":{"values":[-2,-1,0,1,2,3],"tickCount":20,"labels":false,"title":null}},"x2":{"field":"h"},"y":{"field":"r","type":"nominal","scale":{"type":"point","domain":["Whole Brain","Frontal Lobe","Parietal Lobe","Temporal Lobe","Occipital Lobe","Basal Ganglia","Caudate","Putamen","Globus Pallidus","Thalamus","Hippocampus","Central Gray Matter","White Matter"],"padding":0.65},"axis":{"title":["Positive Susceptibility","(Correlates with [iron]; ppb)"],"labelPadding":1,"titlePadding":0,"titleY":72,"titleLineHeight":12}}}},
 {"mark":{"type":"tick","color":"#8c8c8c","thickness":1.3,"size":6},"encoding":{"x":{"field":"l","type":"quantitative"},"y":{"field":"r","type":"nominal"}}},
 {"mark":{"type":"tick","color":"#8c8c8c","thickness":1.3,"size":6},"encoding":{"x":{"field":"h","type":"quantitative"},"y":{"field":"r","type":"nominal"}}},
 {"transform":[{"aggregate":[{"op":"count","as":"n"}]}],"mark":{"type":"rule","color":"black","strokeDash":[2,2],"strokeWidth":1.5},"encoding":{"x":{"datum":0,"type":"quantitative"}}},
 {"mark":{"type":"circle","color":"black","size":26,"opacity":1},"encoding":{"x":{"field":"e","type":"quantitative"},"y":{"field":"r","type":"nominal"}}},
 {"transform":[{"filter":"datum.a"}],"mark":{"type":"text","align":"left","dx":3.5,"dy":2.5,"fontSize":9.5,"fontWeight":"bold","color":"black"},"encoding":{"x":{"field":"h","type":"quantitative"},"y":{"field":"r","type":"nominal"},"text":{"field":"a"}}}]},
{"width":115,"height":172,"title":"List Memory","data":{"name":"est"},"transform":[{"filter":"datum.t==='lis'&&datum.s==='pos'"}],"layer":[
 {"mark":{"type":"rule","color":"#8c8c8c","strokeWidth":1.3},"encoding":{"x":{"field":"l","type":"quantitative","scale":{"domain":[-2,2],"nice":false,"zero":false},"axis":{"values":[-2,-1,0,1,2],"tickCount":20,"labels":false,"title":null}},"x2":{"field":"h"},"y":{"field":"r","type":"nominal","scale":{"type":"point","domain":["Whole Brain","Frontal Lobe","Parietal Lobe","Temporal Lobe","Occipital Lobe","Basal Ganglia","Caudate","Putamen","Globus Pallidus","Thalamus","Hippocampus","Central Gray Matter","White Matter"],"padding":0.65},"axis":{"labels":false,"title":null}}}},
 {"mark":{"type":"tick","color":"#8c8c8c","thickness":1.3,"size":6},"encoding":{"x":{"field":"l","type":"quantitative"},"y":{"field":"r","type":"nominal"}}},
 {"mark":{"type":"tick","color":"#8c8c8c","thickness":1.3,"size":6},"encoding":{"x":{"field":"h","type":"quantitative"},"y":{"field":"r","type":"nominal"}}},
 {"transform":[{"aggregate":[{"op":"count","as":"n"}]}],"mark":{"type":"rule","color":"black","strokeDash":[2,2],"strokeWidth":1.5},"encoding":{"x":{"datum":0,"type":"quantitative"}}},
 {"mark":{"type":"circle","color":"black","size":26,"opacity":1},"encoding":{"x":{"field":"e","type":"quantitative"},"y":{"field":"r","type":"nominal"}}},
 {"transform":[{"filter":"datum.a"}],"mark":{"type":"text","align":"left","dx":3.5,"dy":2.5,"fontSize":9.5,"fontWeight":"bold","color":"black"},"encoding":{"x":{"field":"h","type":"quantitative"},"y":{"field":"r","type":"nominal"},"text":{"field":"a"}}}]},
{"width":115,"height":172,"title":{"text":["Auditory Verbal","Learning Test"]},"data":{"name":"est"},"transform":[{"filter":"datum.t==='avl'&&datum.s==='pos'"}],"layer":[
 {"mark":{"type":"rule","color":"#8c8c8c","strokeWidth":1.3},"encoding":{"x":{"field":"l","type":"quantitative","scale":{"domain":[-1,1],"nice":false,"zero":false},"axis":{"values":[-1,0,1],"tickCount":20,"labels":false,"title":null}},"x2":{"field":"h"},"y":{"field":"r","type":"nominal","scale":{"type":"point","domain":["Whole Brain","Frontal Lobe","Parietal Lobe","Temporal Lobe","Occipital Lobe","Basal Ganglia","Caudate","Putamen","Globus Pallidus","Thalamus","Hippocampus","Central Gray Matter","White Matter"],"padding":0.65},"axis":{"labels":false,"title":null}}}},
 {"mark":{"type":"tick","color":"#8c8c8c","thickness":1.3,"size":6},"encoding":{"x":{"field":"l","type":"quantitative"},"y":{"field":"r","type":"nominal"}}},
 {"mark":{"type":"tick","color":"#8c8c8c","thickness":1.3,"size":6},"encoding":{"x":{"field":"h","type":"quantitative"},"y":{"field":"r","type":"nominal"}}},
 {"transform":[{"aggregate":[{"op":"count","as":"n"}]}],"mark":{"type":"rule","color":"black","strokeDash":[2,2],"strokeWidth":1.5},"encoding":{"x":{"datum":0,"type":"quantitative"}}},
 {"mark":{"type":"circle","color":"black","size":26,"opacity":1},"encoding":{"x":{"field":"e","type":"quantitative"},"y":{"field":"r","type":"nominal"}}},
 {"transform":[{"filter":"datum.a"}],"mark":{"type":"text","align":"right","dx":-3.5,"dy":2.5,"fontSize":9.5,"fontWeight":"bold","color":"black"},"encoding":{"x":{"field":"l","type":"quantitative"},"y":{"field":"r","type":"nominal"},"text":{"field":"a"}}}]},
{"width":115,"height":172,"title":{"text":["Auditory Verbal","Learning Test Delay"]},"data":{"name":"est"},"transform":[{"filter":"datum.t==='del'&&datum.s==='pos'"}],"layer":[
 {"mark":{"type":"rule","color":"#8c8c8c","strokeWidth":1.3},"encoding":{"x":{"field":"l","type":"quantitative","scale":{"domain":[-0.5,0.5],"nice":false,"zero":false},"axis":{"values":[-0.5,0,0.5],"tickCount":20,"labels":false,"title":null}},"x2":{"field":"h"},"y":{"field":"r","type":"nominal","scale":{"type":"point","domain":["Whole Brain","Frontal Lobe","Parietal Lobe","Temporal Lobe","Occipital Lobe","Basal Ganglia","Caudate","Putamen","Globus Pallidus","Thalamus","Hippocampus","Central Gray Matter","White Matter"],"padding":0.65},"axis":{"labels":false,"title":null}}}},
 {"mark":{"type":"tick","color":"#8c8c8c","thickness":1.3,"size":6},"encoding":{"x":{"field":"l","type":"quantitative"},"y":{"field":"r","type":"nominal"}}},
 {"mark":{"type":"tick","color":"#8c8c8c","thickness":1.3,"size":6},"encoding":{"x":{"field":"h","type":"quantitative"},"y":{"field":"r","type":"nominal"}}},
 {"transform":[{"aggregate":[{"op":"count","as":"n"}]}],"mark":{"type":"rule","color":"black","strokeDash":[2,2],"strokeWidth":1.5},"encoding":{"x":{"datum":0,"type":"quantitative"}}},
 {"mark":{"type":"circle","color":"black","size":26,"opacity":1},"encoding":{"x":{"field":"e","type":"quantitative"},"y":{"field":"r","type":"nominal"}}}]},
{"width":115,"height":172,"data":{"name":"est"},"transform":[{"filter":"datum.t==='seq'&&datum.s==='neg'"}],"layer":[
 {"mark":{"type":"rule","color":"#8c8c8c","strokeWidth":1.3},"encoding":{"x":{"field":"l","type":"quantitative","scale":{"domain":[-2,3],"nice":false,"zero":false},"axis":{"values":[-2,-1,0,1,2,3],"tickCount":20,"format":"d","labelAngle":0,"labelOverlap":false,"labelFlush":false,"title":"Parameter Estimate","titlePadding":6}},"x2":{"field":"h"},"y":{"field":"r","type":"nominal","scale":{"type":"point","domain":["Whole Brain","Frontal Lobe","Parietal Lobe","Temporal Lobe","Occipital Lobe","Basal Ganglia","Caudate","Putamen","Globus Pallidus","Thalamus","Hippocampus","Central Gray Matter","White Matter"],"padding":0.65},"axis":{"title":["Negative Susceptibility","(Correlates with [myelin]; ppb)"],"labelPadding":1,"titlePadding":0,"titleY":75,"titleLineHeight":12}}}},
 {"mark":{"type":"tick","color":"#8c8c8c","thickness":1.3,"size":6},"encoding":{"x":{"field":"l","type":"quantitative"},"y":{"field":"r","type":"nominal"}}},
 {"mark":{"type":"tick","color":"#8c8c8c","thickness":1.3,"size":6},"encoding":{"x":{"field":"h","type":"quantitative"},"y":{"field":"r","type":"nominal"}}},
 {"transform":[{"aggregate":[{"op":"count","as":"n"}]}],"mark":{"type":"rule","color":"black","strokeDash":[2,2],"strokeWidth":1.5},"encoding":{"x":{"datum":0,"type":"quantitative"}}},
 {"mark":{"type":"circle","color":"black","size":26,"opacity":1},"encoding":{"x":{"field":"e","type":"quantitative"},"y":{"field":"r","type":"nominal"}}}]},
{"width":115,"height":172,"data":{"name":"est"},"transform":[{"filter":"datum.t==='lis'&&datum.s==='neg'"}],"layer":[
 {"mark":{"type":"rule","color":"#8c8c8c","strokeWidth":1.3},"encoding":{"x":{"field":"l","type":"quantitative","scale":{"domain":[-2,2],"nice":false,"zero":false},"axis":{"values":[-2,-1,0,1,2],"tickCount":20,"format":"d","labelAngle":0,"labelOverlap":false,"labelFlush":false,"title":"Parameter Estimate","titlePadding":6}},"x2":{"field":"h"},"y":{"field":"r","type":"nominal","scale":{"type":"point","domain":["Whole Brain","Frontal Lobe","Parietal Lobe","Temporal Lobe","Occipital Lobe","Basal Ganglia","Caudate","Putamen","Globus Pallidus","Thalamus","Hippocampus","Central Gray Matter","White Matter"],"padding":0.65},"axis":{"labels":false,"title":null}}}},
 {"mark":{"type":"tick","color":"#8c8c8c","thickness":1.3,"size":6},"encoding":{"x":{"field":"l","type":"quantitative"},"y":{"field":"r","type":"nominal"}}},
 {"mark":{"type":"tick","color":"#8c8c8c","thickness":1.3,"size":6},"encoding":{"x":{"field":"h","type":"quantitative"},"y":{"field":"r","type":"nominal"}}},
 {"transform":[{"aggregate":[{"op":"count","as":"n"}]}],"mark":{"type":"rule","color":"black","strokeDash":[2,2],"strokeWidth":1.5},"encoding":{"x":{"datum":0,"type":"quantitative"}}},
 {"mark":{"type":"circle","color":"black","size":26,"opacity":1},"encoding":{"x":{"field":"e","type":"quantitative"},"y":{"field":"r","type":"nominal"}}}]},
{"width":115,"height":172,"data":{"name":"est"},"transform":[{"filter":"datum.t==='avl'&&datum.s==='neg'"}],"layer":[
 {"mark":{"type":"rule","color":"#8c8c8c","strokeWidth":1.3},"encoding":{"x":{"field":"l","type":"quantitative","scale":{"domain":[-1,1],"nice":false,"zero":false},"axis":{"values":[-1,0,1],"tickCount":20,"format":"d","labelAngle":0,"labelOverlap":false,"labelFlush":false,"title":"Parameter Estimate","titlePadding":6}},"x2":{"field":"h"},"y":{"field":"r","type":"nominal","scale":{"type":"point","domain":["Whole Brain","Frontal Lobe","Parietal Lobe","Temporal Lobe","Occipital Lobe","Basal Ganglia","Caudate","Putamen","Globus Pallidus","Thalamus","Hippocampus","Central Gray Matter","White Matter"],"padding":0.65},"axis":{"labels":false,"title":null}}}},
 {"mark":{"type":"tick","color":"#8c8c8c","thickness":1.3,"size":6},"encoding":{"x":{"field":"l","type":"quantitative"},"y":{"field":"r","type":"nominal"}}},
 {"mark":{"type":"tick","color":"#8c8c8c","thickness":1.3,"size":6},"encoding":{"x":{"field":"h","type":"quantitative"},"y":{"field":"r","type":"nominal"}}},
 {"transform":[{"aggregate":[{"op":"count","as":"n"}]}],"mark":{"type":"rule","color":"black","strokeDash":[2,2],"strokeWidth":1.5},"encoding":{"x":{"datum":0,"type":"quantitative"}}},
 {"mark":{"type":"circle","color":"black","size":26,"opacity":1},"encoding":{"x":{"field":"e","type":"quantitative"},"y":{"field":"r","type":"nominal"}}}]},
{"width":115,"height":172,"data":{"name":"est"},"transform":[{"filter":"datum.t==='del'&&datum.s==='neg'"}],"layer":[
 {"mark":{"type":"rule","color":"#8c8c8c","strokeWidth":1.3},"encoding":{"x":{"field":"l","type":"quantitative","scale":{"domain":[-0.5,0.5],"nice":false,"zero":false},"axis":{"values":[-0.5,0,0.5],"tickCount":20,"format":".1f","labelAngle":0,"labelOverlap":false,"labelFlush":false,"title":"Parameter Estimate","titlePadding":6}},"x2":{"field":"h"},"y":{"field":"r","type":"nominal","scale":{"type":"point","domain":["Whole Brain","Frontal Lobe","Parietal Lobe","Temporal Lobe","Occipital Lobe","Basal Ganglia","Caudate","Putamen","Globus Pallidus","Thalamus","Hippocampus","Central Gray Matter","White Matter"],"padding":0.65},"axis":{"labels":false,"title":null}}}},
 {"mark":{"type":"tick","color":"#8c8c8c","thickness":1.3,"size":6},"encoding":{"x":{"field":"l","type":"quantitative"},"y":{"field":"r","type":"nominal"}}},
 {"mark":{"type":"tick","color":"#8c8c8c","thickness":1.3,"size":6},"encoding":{"x":{"field":"h","type":"quantitative"},"y":{"field":"r","type":"nominal"}}},
 {"transform":[{"aggregate":[{"op":"count","as":"n"}]}],"mark":{"type":"rule","color":"black","strokeDash":[2,2],"strokeWidth":1.5},"encoding":{"x":{"datum":0,"type":"quantitative"}}},
 {"mark":{"type":"circle","color":"black","size":26,"opacity":1},"encoding":{"x":{"field":"e","type":"quantitative"},"y":{"field":"r","type":"nominal"}}}]},
{"width":115,"height":33,"data":{"name":"arrow"},"encoding":{"y":{"field":"lane","type":"nominal","scale":{"type":"point","domain":["arrow"],"align":0.576},"axis":null}},"layer":[
 {"transform":[{"filter":"datum.k==='line'"}],"mark":{"type":"rule","color":"black","strokeWidth":1.5},"encoding":{"x":{"field":"x","type":"quantitative","scale":{"domain":[0,1],"nice":false,"zero":false},"axis":null},"x2":{"field":"x2"}}},
 {"transform":[{"filter":"datum.k==='head'"}],"mark":{"type":"point","filled":true,"color":"black","size":36,"opacity":1},"encoding":{"x":{"field":"x","type":"quantitative"},"shape":{"field":"shape","type":"nominal","scale":null}}},
 {"transform":[{"filter":"datum.k==='dot'"}],"mark":{"type":"circle","color":"black","size":55,"opacity":1},"encoding":{"x":{"field":"x","type":"quantitative"}}},
 {"transform":[{"filter":"datum.k==='label'||datum.k==='favors'"}],"mark":{"type":"text","fontSize":9.3,"color":"black","dy":10},"encoding":{"x":{"field":"x","type":"quantitative"},"text":{"field":"label"}}}]},
{"width":115,"height":33,"data":{"name":"arrow"},"encoding":{"y":{"field":"lane","type":"nominal","scale":{"type":"point","domain":["arrow"],"align":0.576},"axis":null}},"layer":[
 {"transform":[{"filter":"datum.k==='line'"}],"mark":{"type":"rule","color":"black","strokeWidth":1.5},"encoding":{"x":{"field":"x","type":"quantitative","scale":{"domain":[0,1],"nice":false,"zero":false},"axis":null},"x2":{"field":"x2"}}},
 {"transform":[{"filter":"datum.k==='head'"}],"mark":{"type":"point","filled":true,"color":"black","size":36,"opacity":1},"encoding":{"x":{"field":"x","type":"quantitative"},"shape":{"field":"shape","type":"nominal","scale":null}}},
 {"transform":[{"filter":"datum.k==='dot'"}],"mark":{"type":"circle","color":"black","size":55,"opacity":1},"encoding":{"x":{"field":"x","type":"quantitative"}}},
 {"transform":[{"filter":"datum.k==='label'"}],"mark":{"type":"text","fontSize":9.3,"color":"black","dy":10},"encoding":{"x":{"field":"x","type":"quantitative"},"text":{"field":"label"}}}]},
{"width":115,"height":33,"data":{"name":"arrow"},"encoding":{"y":{"field":"lane","type":"nominal","scale":{"type":"point","domain":["arrow"],"align":0.576},"axis":null}},"layer":[
 {"transform":[{"filter":"datum.k==='line'"}],"mark":{"type":"rule","color":"black","strokeWidth":1.5},"encoding":{"x":{"field":"x","type":"quantitative","scale":{"domain":[0,1],"nice":false,"zero":false},"axis":null},"x2":{"field":"x2"}}},
 {"transform":[{"filter":"datum.k==='head'"}],"mark":{"type":"point","filled":true,"color":"black","size":36,"opacity":1},"encoding":{"x":{"field":"x","type":"quantitative"},"shape":{"field":"shape","type":"nominal","scale":null}}},
 {"transform":[{"filter":"datum.k==='dot'"}],"mark":{"type":"circle","color":"black","size":55,"opacity":1},"encoding":{"x":{"field":"x","type":"quantitative"}}},
 {"transform":[{"filter":"datum.k==='label'"}],"mark":{"type":"text","fontSize":9.3,"color":"black","dy":10},"encoding":{"x":{"field":"x","type":"quantitative"},"text":{"field":"label"}}}]},
{"width":115,"height":33,"data":{"name":"arrow"},"encoding":{"y":{"field":"lane","type":"nominal","scale":{"type":"point","domain":["arrow"],"align":0.576},"axis":null}},"layer":[
 {"transform":[{"filter":"datum.k==='line'"}],"mark":{"type":"rule","color":"black","strokeWidth":1.5},"encoding":{"x":{"field":"x","type":"quantitative","scale":{"domain":[0,1],"nice":false,"zero":false},"axis":null},"x2":{"field":"x2"}}},
 {"transform":[{"filter":"datum.k==='head'"}],"mark":{"type":"point","filled":true,"color":"black","size":36,"opacity":1},"encoding":{"x":{"field":"x","type":"quantitative"},"shape":{"field":"shape","type":"nominal","scale":null}}},
 {"transform":[{"filter":"datum.k==='dot'"}],"mark":{"type":"circle","color":"black","size":55,"opacity":1},"encoding":{"x":{"field":"x","type":"quantitative"}}},
 {"transform":[{"filter":"datum.k==='label'"}],"mark":{"type":"text","fontSize":9.3,"color":"black","dy":10},"encoding":{"x":{"field":"x","type":"quantitative"},"text":{"field":"label"}}}]}
]}
